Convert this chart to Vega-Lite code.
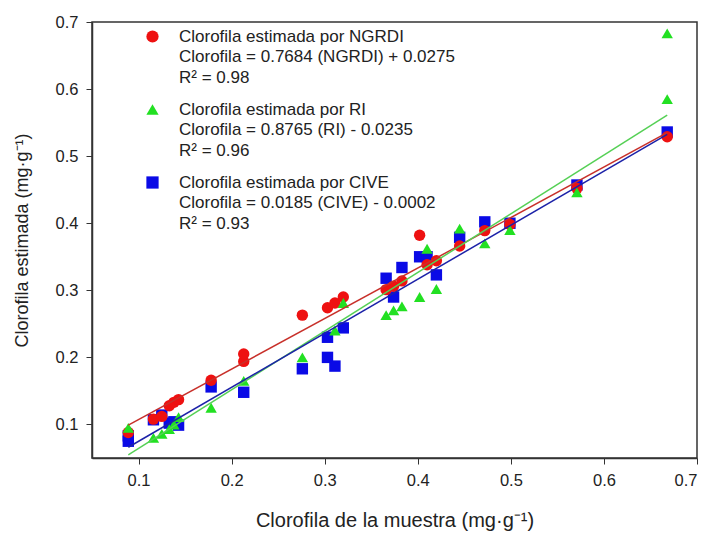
{
  "$schema": "https://vega.github.io/schema/vega-lite/v6.json",
  "autosize": "none",
  "width": 605,
  "height": 436,
  "padding": {"left": 92, "top": 22, "right": 15, "bottom": 75},
  "background": "white",
  "config": {
    "font": "Liberation Sans",
    "view": {"stroke": "#333333", "strokeWidth": 1.5},
    "axis": {"grid": false, "domainColor": "#333333", "tickColor": "#333333", "labelColor": "#222222", "titleColor": "#222222", "labelFont": "Liberation Sans", "titleFont": "Liberation Sans", "titleFontWeight": "normal", "labelFontSize": 16.5, "titleFontSize": 18, "tickSize": 6, "domainWidth": 1.5},
    "style": {"guide-label": {"lineHeight": 20.5}}
  },
  "datasets": {
    "puntos": [
      {"serie": "NGRDI", "x": 0.089, "y": 0.088},
      {"serie": "NGRDI", "x": 0.116, "y": 0.108},
      {"serie": "NGRDI", "x": 0.125, "y": 0.112},
      {"serie": "NGRDI", "x": 0.133, "y": 0.128},
      {"serie": "NGRDI", "x": 0.138, "y": 0.133},
      {"serie": "NGRDI", "x": 0.143, "y": 0.137},
      {"serie": "NGRDI", "x": 0.178, "y": 0.166},
      {"serie": "NGRDI", "x": 0.213, "y": 0.194},
      {"serie": "NGRDI", "x": 0.213, "y": 0.205},
      {"serie": "NGRDI", "x": 0.276, "y": 0.263},
      {"serie": "NGRDI", "x": 0.303, "y": 0.274},
      {"serie": "NGRDI", "x": 0.311, "y": 0.281},
      {"serie": "NGRDI", "x": 0.320, "y": 0.290},
      {"serie": "NGRDI", "x": 0.366, "y": 0.301},
      {"serie": "NGRDI", "x": 0.374, "y": 0.306},
      {"serie": "NGRDI", "x": 0.383, "y": 0.314},
      {"serie": "NGRDI", "x": 0.402, "y": 0.382},
      {"serie": "NGRDI", "x": 0.410, "y": 0.338},
      {"serie": "NGRDI", "x": 0.420, "y": 0.344},
      {"serie": "NGRDI", "x": 0.445, "y": 0.366},
      {"serie": "NGRDI", "x": 0.472, "y": 0.389},
      {"serie": "NGRDI", "x": 0.499, "y": 0.398},
      {"serie": "NGRDI", "x": 0.571, "y": 0.452},
      {"serie": "NGRDI", "x": 0.668, "y": 0.529},
      {"serie": "RI", "x": 0.089, "y": 0.095},
      {"serie": "RI", "x": 0.116, "y": 0.080},
      {"serie": "RI", "x": 0.125, "y": 0.086},
      {"serie": "RI", "x": 0.133, "y": 0.093},
      {"serie": "RI", "x": 0.138, "y": 0.100},
      {"serie": "RI", "x": 0.143, "y": 0.111},
      {"serie": "RI", "x": 0.178, "y": 0.125},
      {"serie": "RI", "x": 0.213, "y": 0.165},
      {"serie": "RI", "x": 0.276, "y": 0.200},
      {"serie": "RI", "x": 0.311, "y": 0.240},
      {"serie": "RI", "x": 0.320, "y": 0.281},
      {"serie": "RI", "x": 0.366, "y": 0.263},
      {"serie": "RI", "x": 0.374, "y": 0.270},
      {"serie": "RI", "x": 0.383, "y": 0.276},
      {"serie": "RI", "x": 0.402, "y": 0.290},
      {"serie": "RI", "x": 0.410, "y": 0.362},
      {"serie": "RI", "x": 0.420, "y": 0.302},
      {"serie": "RI", "x": 0.445, "y": 0.392},
      {"serie": "RI", "x": 0.472, "y": 0.370},
      {"serie": "RI", "x": 0.499, "y": 0.390},
      {"serie": "RI", "x": 0.571, "y": 0.446},
      {"serie": "RI", "x": 0.668, "y": 0.585},
      {"serie": "RI", "x": 0.668, "y": 0.683},
      {"serie": "CIVE", "x": 0.089, "y": 0.083},
      {"serie": "CIVE", "x": 0.089, "y": 0.075},
      {"serie": "CIVE", "x": 0.116, "y": 0.107},
      {"serie": "CIVE", "x": 0.125, "y": 0.114},
      {"serie": "CIVE", "x": 0.133, "y": 0.102},
      {"serie": "CIVE", "x": 0.138, "y": 0.104},
      {"serie": "CIVE", "x": 0.143, "y": 0.099},
      {"serie": "CIVE", "x": 0.178, "y": 0.156},
      {"serie": "CIVE", "x": 0.213, "y": 0.148},
      {"serie": "CIVE", "x": 0.276, "y": 0.183},
      {"serie": "CIVE", "x": 0.303, "y": 0.230},
      {"serie": "CIVE", "x": 0.303, "y": 0.200},
      {"serie": "CIVE", "x": 0.311, "y": 0.187},
      {"serie": "CIVE", "x": 0.320, "y": 0.244},
      {"serie": "CIVE", "x": 0.366, "y": 0.318},
      {"serie": "CIVE", "x": 0.374, "y": 0.290},
      {"serie": "CIVE", "x": 0.383, "y": 0.334},
      {"serie": "CIVE", "x": 0.402, "y": 0.350},
      {"serie": "CIVE", "x": 0.410, "y": 0.350},
      {"serie": "CIVE", "x": 0.420, "y": 0.323},
      {"serie": "CIVE", "x": 0.445, "y": 0.379},
      {"serie": "CIVE", "x": 0.472, "y": 0.402},
      {"serie": "CIVE", "x": 0.499, "y": 0.400},
      {"serie": "CIVE", "x": 0.571, "y": 0.457},
      {"serie": "CIVE", "x": 0.668, "y": 0.536}
    ],
    "lineas": [
      {"serie": "NGRDI", "x": 0.089, "y": 0.099},
      {"serie": "NGRDI", "x": 0.668, "y": 0.535},
      {"serie": "RI", "x": 0.089, "y": 0.0545},
      {"serie": "RI", "x": 0.668, "y": 0.561},
      {"serie": "CIVE", "x": 0.089, "y": 0.066},
      {"serie": "CIVE", "x": 0.668, "y": 0.5325}
    ]
  },
  "layer": [
    {
      "data": {"name": "puntos"},
      "mark": {"type": "point", "filled": true, "opacity": 1, "size": 130},
      "encoding": {
        "x": {"field": "x", "type": "quantitative", "scale": {"domain": [0.05, 0.7], "nice": false, "zero": false},
              "axis": {"values": [0.1, 0.2, 0.3, 0.4, 0.5, 0.6, 0.7], "format": ".1f", "labelPadding": 8, "titlePadding": 22, "titleFontSize": 20, "title": "Clorofila de la muestra (mg·g⁻¹)"}},
        "y": {"field": "y", "type": "quantitative", "scale": {"domain": [0.05, 0.7], "nice": false, "zero": false},
              "axis": {"values": [0.1, 0.2, 0.3, 0.4, 0.5, 0.6, 0.7], "format": ".1f", "labelPadding": 8, "titlePadding": 24, "title": "Clorofila estimada (mg·g⁻¹)"}},
        "color": {"field": "serie", "type": "nominal",
                  "scale": {"domain": ["NGRDI", "RI", "CIVE"], "range": ["#ee1111", "#22e022", "#0a0ae6"]},
                  "legend": {"orient": "none", "legendX": 52, "legendY": 6, "title": null, "padding": 0, "rowPadding": 14, "symbolOffset": 0, "labelOffset": 18, "labelFontSize": 17, "labelColor": "#222222", "labelLimit": 400, "symbolSize": 150, "symbolStrokeWidth": 0,
                             "labelExpr": "datum.label == 'NGRDI' ? ['Clorofila estimada por NGRDI', 'Clorofila = 0.7684 (NGRDI) + 0.0275', 'R² = 0.98'] : datum.label == 'RI' ? ['Clorofila estimada por RI', 'Clorofila = 0.8765 (RI) - 0.0235', 'R² = 0.96'] : ['Clorofila estimada por CIVE', 'Clorofila = 0.0185 (CIVE) - 0.0002', 'R² = 0.93']"}},
        "shape": {"field": "serie", "type": "nominal",
                  "scale": {"domain": ["NGRDI", "RI", "CIVE"], "range": ["circle", "triangle-up", "square"]}},
        "order": {"field": "serie", "sort": "ascending"}
      }
    },
    {
      "data": {"name": "lineas"},
      "mark": {"type": "line", "strokeWidth": 1.5},
      "encoding": {
        "x": {"field": "x", "type": "quantitative"},
        "y": {"field": "y", "type": "quantitative"},
        "detail": {"field": "serie"},
        "stroke": {"field": "serie", "type": "nominal",
                  "scale": {"domain": ["NGRDI", "RI", "CIVE"], "range": ["#c8302a", "#55d055", "#1c22a8"]},
                  "legend": null}
      }
    }
  ]
}
